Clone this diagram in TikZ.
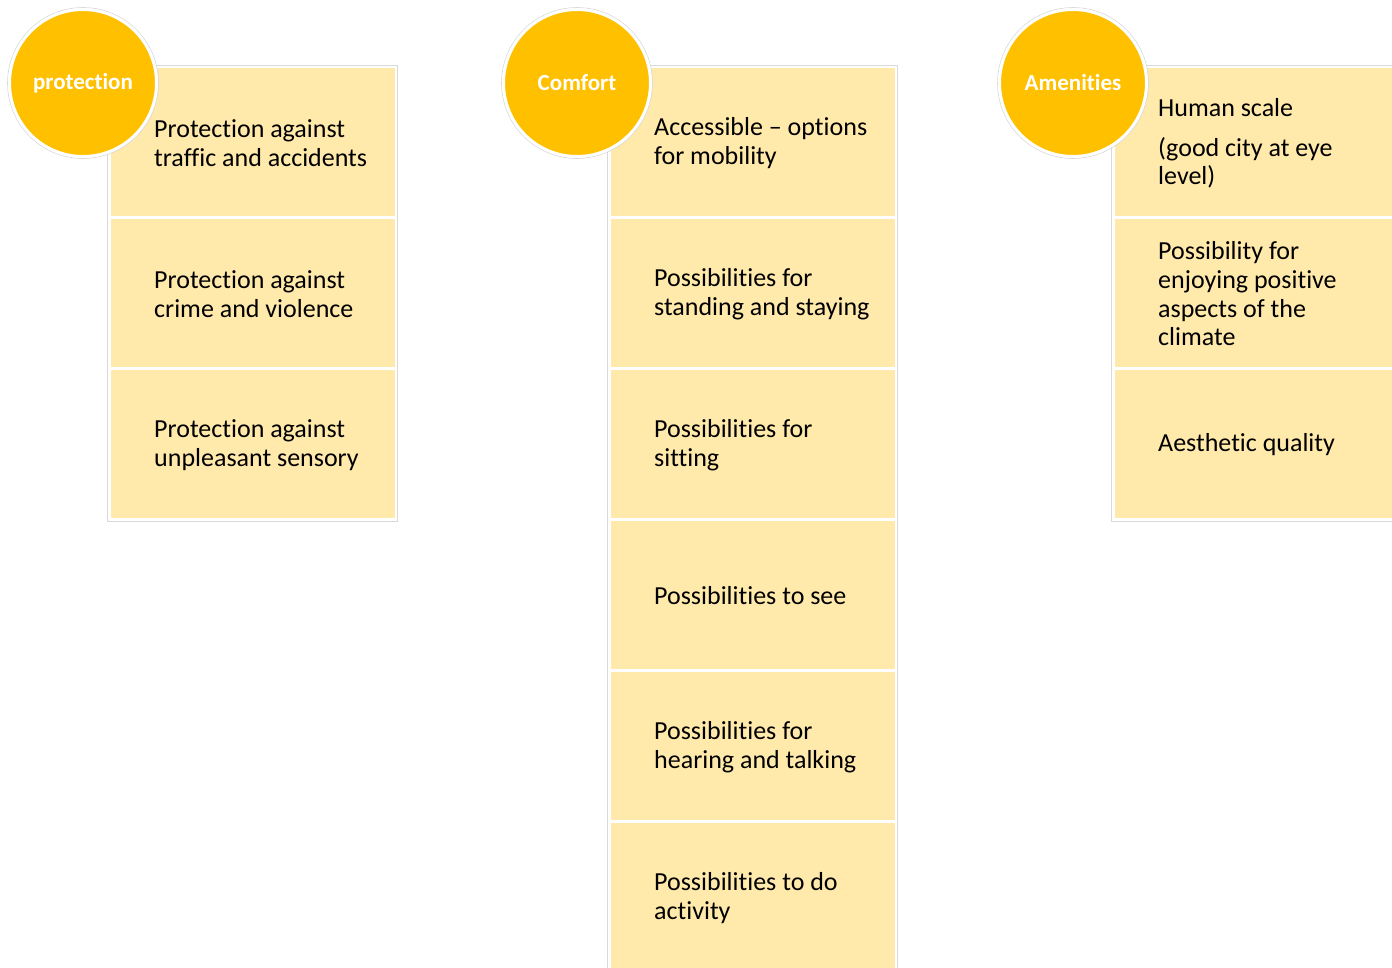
\documentclass[tikz,border=0pt]{standalone}
\usepackage{fontspec}
\setmainfont{Carlito}[Ligatures=NoCommon]
\definecolor{gold}{HTML}{FFC000}
\definecolor{paleGold}{HTML}{FFEAAB}
\definecolor{edgeGrey}{HTML}{D9D9D9}
\tikzset{
  cell/.style={rectangle, fill=paleGold, draw=white, line width=3pt,
    minimum width=287pt, minimum height=151pt, inner sep=0pt},
  lbl/.style={anchor=west, align=left, inner sep=0pt, text=black,
    font=\fontsize{26pt}{28.7pt}\selectfont},
  badge/.style={circle, fill=gold, draw=white, line width=3pt,
    minimum size=147pt, inner sep=0pt, text=white,
    font=\fontsize{23pt}{27pt}\selectfont\bfseries},
  halo/.style={draw=edgeGrey, line width=0.8pt},
  frame/.style={draw=edgeGrey, line width=0.8pt}
}
\begin{document}
\begin{tikzpicture}[x=1pt,y=-1pt]
\useasboundingbox (0,0) rectangle (1392,967);

% protection column
\node[cell] (p1) at (252.5,142) {};
\node[cell] (p2) at (252.5,293) {};
\node[cell] (p3) at (252.5,444) {};
\draw[frame] (p1.north west) rectangle (p3.south east);
\node[lbl] (tp1) at ([xshift=46.5pt,yshift=-1pt]p1.west) {Protection against\\traffic and accidents};
\node[lbl] (tp2) at ([xshift=46.5pt,yshift=-1pt]p2.west) {Protection against\\crime and violence};
\node[lbl] (tp3) at ([xshift=46.5pt,yshift=-1pt]p3.west) {Protection against\\unpleasant sensory};

% comfort column
\node[cell] (c1) at (752.5,142) {};
\node[cell] (c2) at (752.5,293) {};
\node[cell] (c3) at (752.5,444) {};
\node[cell] (c4) at (752.5,595) {};
\node[cell] (c5) at (752.5,746) {};
\node[cell] (c6) at (752.5,897) {};
\draw[frame] (c1.north west) rectangle (c6.south east);
\node[lbl] (tc1) at ([xshift=46.5pt,yshift=-1pt]c1.west) {Accessible -- options\\for mobility};
\node[lbl] (tc2) at ([xshift=46.5pt,yshift=-1pt]c2.west) {Possibilities for\\standing and staying};
\node[lbl] (tc3) at ([xshift=46.5pt,yshift=-1pt]c3.west) {Possibilities for\\sitting};
\node[lbl] (tc4) at ([xshift=46.5pt,yshift=-1pt]c4.west) {Possibilities to see};
\node[lbl] (tc5) at ([xshift=46.5pt,yshift=-1pt]c5.west) {Possibilities for\\hearing and talking};
\node[lbl] (tc6) at ([xshift=46.5pt,yshift=-1pt]c6.west) {Possibilities to do\\activity};

% amenities column
\node[cell] (a1) at (1256.5,142) {};
\node[cell] (a2) at (1256.5,293) {};
\node[cell] (a3) at (1256.5,444) {};
\draw[frame] (a1.north west) rectangle (a3.south east);
\node[lbl] (ta1) at ([xshift=46.5pt,yshift=-1.5pt]a1.west) {Human scale\\[11pt](good city at eye\\level)};
\node[lbl] (ta2) at ([xshift=46.5pt,yshift=-1pt]a2.west) {Possibility for\\enjoying positive\\aspects of the\\climate};
\node[lbl] (ta3) at ([xshift=46.5pt,yshift=-1pt]a3.west) {Aesthetic quality};

% category badges
\foreach \cx in {83,577,1073} \draw[halo] (\cx,83) circle (75.4pt);
\node[badge] (bp) at (83,83) {protection};
\node[badge] (bc) at (577,83) {Comfort};
\node[badge] (ba) at (1073,83) {Amenities};
\end{tikzpicture}
\end{document}
